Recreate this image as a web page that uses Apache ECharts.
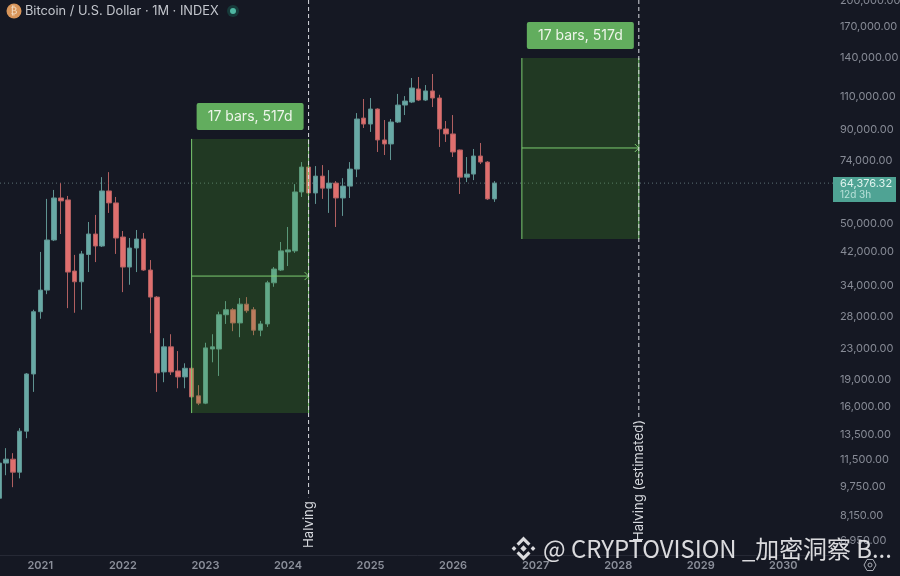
<!DOCTYPE html>
<html>
<head>
<meta charset="utf-8">
<style>html,body{margin:0;padding:0;background:#151823;overflow:hidden}#c{width:900px;height:576px}</style>
<script src="https://cdn.jsdelivr.net/npm/echarts@6/dist/echarts.min.js"></script>
</head>
<body>
<div id="c"></div>
<script>
// [open, close, low, high], one per month from 2020-07
const candles = [
[9075,11290,9050,11430],[11290,11570,10470,12390],[11570,10670,9720,12010],[10670,13770,10270,14030],
[13770,19650,13180,19770],[19650,28940,17580,29300],
[28940,33100,27700,41970],[33100,45200,32280,58360],[45200,58700,44900,61700],[58700,57640,46910,64380],
[58000,37030,29590,59440],[37270,34860,28750,41200],[34860,41450,29300,42240],[41300,46910,37030,50560],
[46910,43540,39400,52830],[43540,61320,43270,66820],[61320,56920,53490,68930],[56920,45760,41450,59070],
[46050,38200,32690,47800],[38200,43000,34220,45760],[43000,45480,37030,48100],[45480,37500,37300,47200],
[37500,31690,25320,39900],[31690,19780,17580,31900],[19900,23260,18670,24540],[23260,19900,19530,25160],
[20030,19290,17980,22660],[19290,20360,17980,21000],[20360,17040,16930,20500],[17150,16390,16190,18330],
[16390,23110,16290,23860],[22950,23260,21130,25160],[22950,28400,19410,28940],[28400,29300,26820,30910],
[29300,26990,25640,29590],[26990,30330,24700,31500],[30330,29120,28750,31690],[29300,25800,25010,29780],
[25800,26820,24850,27330],[26820,34640,26330,35080],[34640,37730,33790,38200],[37500,42240,37270,44640],
[41970,42500,38440,49010],[42240,60930,41710,63980],[60930,71130,59070,73380],[71130,60550,59440,72020],
[60550,67240,56570,71570],[67240,62400,58360,72020],[62400,64380,53490,69800],[64380,58700,49010,65190],
[58700,63190,52500,66400],[63190,70240,58700,73380],[70240,95900,66820,99510],[96460,92950,90700,108600],
[92950,102040,88500,109270],[102040,84200,78120,102500],[84200,82120,76670,95300],[82120,94120,74300,95900],
[94120,104600,93530,112100],[104600,107230,98300,110600],[106570,116300,105900,123770],[115600,107900,107230,124540],
[107900,114190,107230,118450],[114190,109270,103300,126880],[109270,90150,80600,111500],[90150,87400,83150,94700],
[87400,78120,75720,98300],[79100,66820,60180,79300],[66820,68100,64790,75720],[68100,76190,65600,79600],
[76190,73380,72470,82630],[73380,58360,58000,73800],[58360,64376.32,57280,65190]
];
const startYear = 2020, startMonth = 7, monthCount = 122;
const months = [];
for (let i = 0; i < monthCount; i++) {
  const t = startYear * 12 + startMonth - 1 + i;
  months.push(Math.floor(t / 12) + '-' + String(t % 12 + 1).padStart(2, '0'));
}
const priceTicks = [200000,170000,140000,110000,90000,74000,50000,42000,34000,28000,23000,19000,16000,13500,11500,9750,8150,6950];
const yMin = 6376, yMax = 201000;
const lastPrice = 64376.32;
const lastPriceLabel = '64,376.32';
const countdownLabel = '12d 3h';
// start month, end month, top price, bottom price, middle price, label
const measures = [
  ['2022-11','2024-04',84740,15410,36120,'17 bars, 517d'],
  ['2026-11','2028-04',140100,45480,80100,'17 bars, 517d']
];
// month, line bottom price, text start price, text
const halvings = [
  ['2024-04',9130,6660,'Halving'],
  ['2028-04',14750,6950,'Halving (estimated)']
];
const titleText = 'Bitcoin / U.S. Dollar · 1M · INDEX';
const watermarkText = '@ CRYPTOVISION _加密洞察 B...';

const UP = '#68a9a6', DOWN = '#df6f6e', GREEN = '#7ccc70';
const FONT = 'Inter, "Noto Sans", sans-serif';
const fmt = v => v.toLocaleString('en-US', {minimumFractionDigits: 2, maximumFractionDigits: 2});

const chart = echarts.init(document.getElementById('c'), null, {renderer: 'canvas'});

function renderMeasure(params, api) {
  const a = api.coord([api.value(0), api.value(2)]);
  const b = api.coord([api.value(1), api.value(3)]);
  const m = api.coord([api.value(0), api.value(4)]);
  const cx = (a[0] + b[0]) / 2;
  const lineStyle = {stroke: GREEN, lineWidth: 1, fill: null};
  return {type: 'group', children: [
    {type: 'rect', shape: {x: a[0], y: a[1], width: b[0] - a[0], height: b[1] - a[1]},
     style: {fill: 'rgba(72,170,40,0.23)'}},
    {type: 'line', shape: {x1: a[0], y1: a[1], x2: a[0], y2: b[1]}, style: lineStyle},
    {type: 'line', shape: {x1: b[0], y1: a[1], x2: b[0], y2: b[1]}, style: lineStyle},
    {type: 'line', shape: {x1: a[0], y1: m[1], x2: b[0], y2: m[1]}, style: lineStyle},
    {type: 'polyline', shape: {points: [[b[0] - 4, m[1] - 4], [b[0], m[1]], [b[0] - 4, m[1] + 4]]}, style: lineStyle},
    {type: 'rect', shape: {x: cx - 53.5, y: a[1] - 36, width: 107, height: 27, r: 2}, style: {fill: '#62ad5e'}},
    {type: 'text', x: cx, y: a[1] - 22.5,
     style: {text: measures[params.dataIndex][5], fill: '#eef5ea', fontSize: 14, fontFamily: FONT,
             align: 'center', verticalAlign: 'middle'}}
  ]};
}
function renderHalving(params, api) {
  const top = api.coord([api.value(0), yMax]);
  const bot = api.coord([api.value(0), api.value(1)]);
  const txt = api.coord([api.value(0), api.value(2)]);
  return {type: 'group', children: [
    {type: 'line', shape: {x1: top[0], y1: top[1], x2: bot[0], y2: bot[1]},
     style: {stroke: '#d9dbe0', lineWidth: 1, lineDash: [4, 3], fill: null}},
    {type: 'text', x: txt[0], y: txt[1], rotation: Math.PI / 2,
     style: {text: halvings[params.dataIndex][3], fill: '#d6d8dd', fontSize: 13.2, fontFamily: FONT,
             align: 'left', verticalAlign: 'middle'}}
  ]};
}
function renderLast(params, api) {
  const p = api.coord([0, api.value(0)]);
  const right = 833;
  return {type: 'group', children: [
    {type: 'line', shape: {x1: 0, y1: p[1], x2: right, y2: p[1]},
     style: {stroke: 'rgba(150,185,185,0.55)', lineWidth: 1, lineDash: [1, 3], fill: null}},
    {type: 'rect', shape: {x: right, y: p[1] - 6, width: 63, height: 25}, style: {fill: '#4fa394'}},
    {type: 'text', x: right + 7, y: p[1] + 1, style: {text: lastPriceLabel, fill: '#dff3ee', fontSize: 11, fontFamily: FONT, verticalAlign: 'middle'}},
    {type: 'text', x: right + 7, y: p[1] + 12, style: {text: countdownLabel, fill: '#b7e0d8', fontSize: 10, fontFamily: FONT, verticalAlign: 'middle'}}
  ]};
}

const diamond = (cx, cy, r) => [[cx - r, cy], [cx, cy - r], [cx + r, cy], [cx, cy + r]];
const chevron = (cx, cy, r, t, dir) => dir < 0
  ? [[cx - r, cy + r], [cx, cy], [cx + r, cy + r], [cx + r - t, cy + r + t], [cx, cy + t * 2], [cx - r + t, cy + r + t]]
  : [[cx - r, cy - r], [cx, cy], [cx + r, cy - r], [cx + r - t, cy - r - t], [cx, cy - t * 2], [cx - r + t, cy - r - t]];
const wmFill = 'rgba(235,236,238,0.92)';

chart.setOption({
  animation: false,
  backgroundColor: '#151823',
  grid: {left: -4.44, right: 65.1, top: 0, bottom: 21, containLabel: false, outerBoundsMode: 'none'},
  title: {show: true, text: titleText, left: 25, top: 5, padding: 0,
    textStyle: {color: '#c3c6cd', fontSize: 12.8, fontWeight: 400, fontFamily: FONT}},
  xAxis: {type: 'category', data: months, boundaryGap: true,
    axisLine: {show: true, lineStyle: {color: '#262935'}},
    axisTick: {show: false}, splitLine: {show: false},
    axisLabel: {
      interval: (i, v) => v.endsWith('-01'),
      formatter: v => v.slice(0, 4),
      color: '#8b8f9a', fontSize: 11, fontWeight: 600, fontFamily: FONT, margin: 5, hideOverlap: false
    }},
  yAxis: {type: 'log', logBase: 10, min: yMin, max: yMax, position: 'right',
    axisLine: {show: false}, axisTick: {show: false}, splitLine: {show: false},
    axisLabel: {customValues: priceTicks, formatter: v => fmt(v), color: '#878b96', fontSize: 11,
      fontFamily: FONT, margin: 5, align: 'left'}},
  series: [
    {type: 'candlestick', z: 2, data: candles, barWidth: 5,
     itemStyle: {color: UP, color0: DOWN, borderColor: '#5f9391', borderColor0: '#b05f60', borderWidth: 1}},
    {type: 'custom', z: 5, silent: true, renderItem: renderMeasure, clip: false,
     encode: {x: [0, 1], y: [2, 3, 4]},
     data: measures.map(m => [months.indexOf(m[0]), months.indexOf(m[1]), m[2], m[3], m[4]])},
    {type: 'custom', z: 6, silent: true, renderItem: renderHalving, clip: false,
     encode: {x: 0, y: [1, 2]},
     data: halvings.map(h => [months.indexOf(h[0]), h[1], h[2]])},
    {type: 'custom', z: 1, silent: true, renderItem: renderLast, clip: false,
     encode: {y: 0}, data: [[lastPrice]]}
  ],
  graphic: [
    {type: 'circle', shape: {cx: 14, cy: 11, r: 7.5}, style: {fill: '#d8955a'}, z: 20},
    {type: 'text', x: 14, y: 11, style: {text: '₿', fill: '#f3dcc2', fontSize: 10, align: 'center', verticalAlign: 'middle', fontFamily: 'DejaVu Sans'}, z: 21},
    {type: 'circle', shape: {cx: 233, cy: 11, r: 6}, style: {fill: '#173a3a'}, z: 20},
    {type: 'circle', shape: {cx: 233, cy: 11, r: 3}, style: {fill: '#4fb7a2'}, z: 21},
    // settings icon
    {type: 'polygon', shape: {points: [[864, 565], [867, 559.5], [873, 559.5], [876, 565], [873, 570.5], [867, 570.5]]},
     style: {fill: null, stroke: '#a9acb4', lineWidth: 1}, z: 20},
    {type: 'circle', shape: {cx: 870, cy: 565, r: 2}, style: {fill: null, stroke: '#a9acb4', lineWidth: 1}, z: 20},
    // watermark
    {type: 'polygon', shape: {points: diamond(523.5, 548.5, 3.2)}, style: {fill: wmFill}, z: 30},
    {type: 'polygon', shape: {points: diamond(514, 548.5, 2.4)}, style: {fill: wmFill}, z: 30},
    {type: 'polygon', shape: {points: diamond(533, 548.5, 2.4)}, style: {fill: wmFill}, z: 30},
    {type: 'polygon', shape: {points: chevron(523.5, 536.5, 7, 2.2, -1)}, style: {fill: wmFill}, z: 30},
    {type: 'polygon', shape: {points: chevron(523.5, 560.5, 7, 2.2, 1)}, style: {fill: wmFill}, z: 30},
    {type: 'text', x: 543, y: 549, style: {text: watermarkText, fill: wmFill, fontSize: 23.9,
      fontFamily: '"Noto Sans CJK SC", "Noto Sans", sans-serif', verticalAlign: 'middle'}, z: 30}
  ]
});
</script>
</body>
</html>
